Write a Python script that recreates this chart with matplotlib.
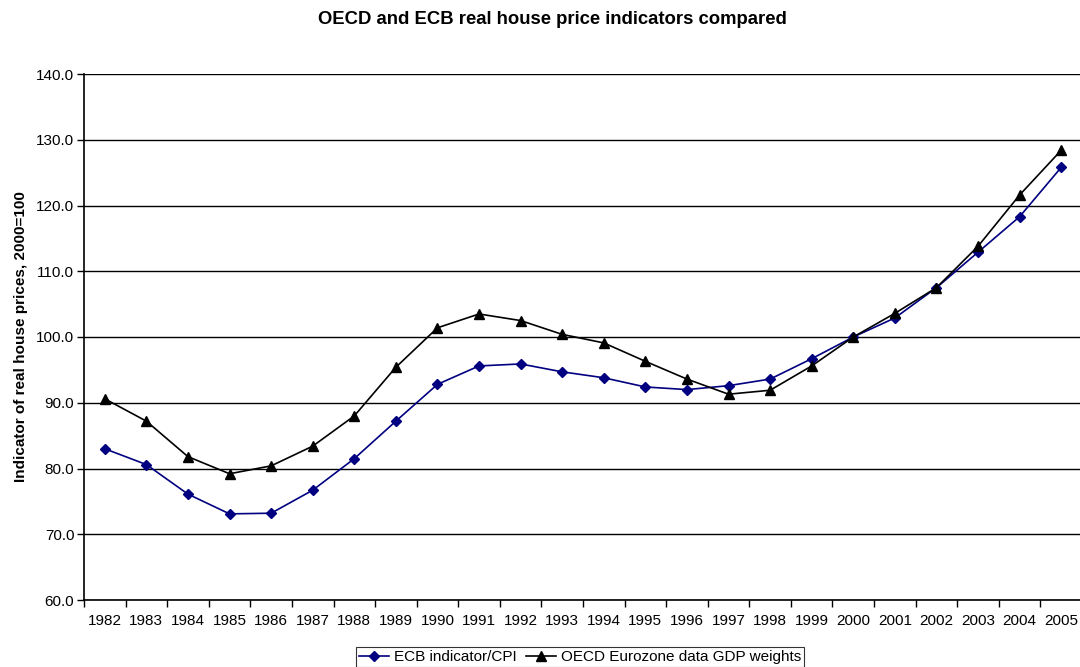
import matplotlib
matplotlib.use("Agg")
import matplotlib.pyplot as plt
from matplotlib.ticker import FixedLocator, NullFormatter, FixedFormatter

plt.rcParams['font.family'] = ['Liberation Sans', 'DejaVu Sans']

#---------------------------------------------- data
years = list(range(1982, 2006))
ecb_cpi = [83.0, 80.6, 76.1, 73.1, 73.2, 76.7, 81.5, 87.2, 92.8, 95.6, 95.9, 94.7,
           93.8, 92.4, 92.0, 92.6, 93.6, 96.7, 100.0, 102.9, 107.5, 112.9, 118.3, 125.8]
oecd_gdp = [90.6, 87.2, 81.8, 79.2, 80.4, 83.4, 88.0, 95.4, 101.4, 103.5, 102.5, 100.4,
            99.1, 96.3, 93.6, 91.3, 91.9, 95.6, 100.0, 103.6, 107.5, 113.8, 121.6, 128.4]
y_ticks = [60, 70, 80, 90, 100, 110, 120, 130, 140]

#---------------------------------------------- figure
fig = plt.figure(figsize=(10.8, 6.67), dpi=100)
ax = fig.add_axes([84/1080, 1-600/667, 998/1080, (600-74)/667])

x = list(range(len(years)))
ax.plot(x, ecb_cpi, color='#000080', lw=1.2, marker='D', ms=5.5,
        label='ECB indicator/CPI', zorder=3)
ax.plot(x, oecd_gdp, color='black', lw=1.2, marker='^', ms=7.5,
        label='OECD Eurozone data GDP weights', zorder=3)

ax.set_xlim(-0.5, len(years) - 0.5)
ax.set_ylim(60, 140)

ax.yaxis.set_major_locator(FixedLocator(y_ticks))
ax.set_yticklabels(['%.1f' % v for v in y_ticks])
ax.grid(axis='y', color='black', lw=1.0)
ax.set_axisbelow(True)

# category ticks at boundaries, labels in the middle
ax.xaxis.set_major_locator(FixedLocator([i - 0.5 for i in range(len(years) + 1)]))
ax.xaxis.set_major_formatter(NullFormatter())
ax.xaxis.set_minor_locator(FixedLocator(x))
ax.xaxis.set_minor_formatter(FixedFormatter([str(y) for y in years]))
ax.tick_params(axis='x', which='major', length=5, direction='out', width=1)
ax.tick_params(axis='x', which='minor', length=0, pad=10, labelsize=11)
ax.tick_params(axis='y', length=5, direction='out', width=1, labelsize=11, pad=2)

for s in ['top', 'right']:
    ax.spines[s].set_visible(False)
ax.spines['left'].set_linewidth(1.2)
ax.spines['bottom'].set_linewidth(1.2)

ax.set_ylabel('Indicator of real house prices, 2000=100', fontsize=11,
              fontweight='bold', labelpad=6)

fig.text(552/1080, 1-19/667, 'OECD and ECB real house price indicators compared',
         ha='center', va='center', fontsize=13.3, fontweight='bold')

leg = fig.legend(loc='upper center', bbox_to_anchor=(580/1080, 1-647/667), ncol=2,
                 frameon=True, fancybox=False, edgecolor='black', fontsize=11,
                 handlelength=2.0, handletextpad=0.3, columnspacing=0.6,
                 borderpad=0.2, borderaxespad=0)
leg.get_frame().set_linewidth(0.8)

fig.savefig('out.png', dpi=100)
